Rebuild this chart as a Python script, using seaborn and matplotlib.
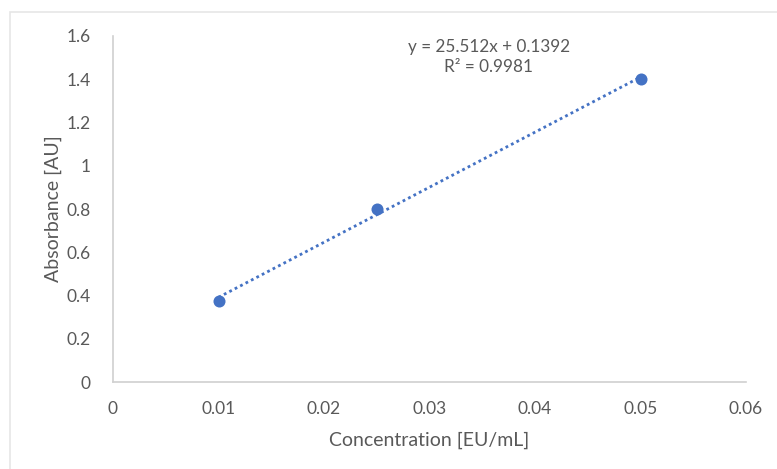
import numpy as np
import pandas as pd
import matplotlib
matplotlib.use("Agg")
import matplotlib.pyplot as plt
import seaborn as sns
from matplotlib.patches import Rectangle

concentration = [0.01, 0.025, 0.05]
absorbance = [0.375, 0.80, 1.40]
x_ticks = [0, 0.01, 0.02, 0.03, 0.04, 0.05, 0.06]
x_tick_labels = ["0", "0.01", "0.02", "0.03", "0.04", "0.05", "0.06"]
y_ticks = [0, 0.2, 0.4, 0.6, 0.8, 1.0, 1.2, 1.4, 1.6]
y_tick_labels = ["0", "0.2", "0.4", "0.6", "0.8", "1", "1.2", "1.4", "1.6"]
equation_text = "y = 25.512x + 0.1392\nR\u00b2 = 0.9981"

df = pd.DataFrame({"Concentration": concentration, "Absorbance": absorbance})

sns.set_style("white")
plt.rcParams["font.family"] = ["Lato", "DejaVu Sans"]

blue = "#4472C4"
gray_text = "#595959"
axis_gray = "#d0d0d0"

fig = plt.figure(figsize=(7.77, 4.69), dpi=100)
fig.patch.set_facecolor("white")
# chart frame
fig.add_artist(Rectangle((10 / 777, -0.05), 1.0, 1 - 12 / 469 + 0.05,
                         transform=fig.transFigure, fill=False,
                         edgecolor="#e6e6e6", linewidth=1.2))

ax = fig.add_axes([113 / 777, 1 - 382 / 469, (746 - 113) / 777, (382 - 36) / 469])

sns.regplot(data=df, x="Concentration", y="Absorbance", ax=ax, ci=None,
            truncate=True,
            scatter_kws={"s": 75, "color": blue, "alpha": 1.0,
                         "linewidths": 0, "zorder": 3},
            line_kws={"color": blue, "linestyle": (0, (1, 1.2)), "linewidth": 2.0})

ax.set_xlim(0, 0.06)
ax.set_ylim(0, 1.6)
ax.set_xticks(x_ticks)
ax.set_xticklabels(x_tick_labels)
ax.set_yticks(y_ticks)
ax.set_yticklabels(y_tick_labels)
ax.tick_params(axis="both", length=0, labelsize=12.5, colors=gray_text)
ax.tick_params(axis="x", pad=14)
ax.tick_params(axis="y", pad=16)

for s in ["top", "right"]:
    ax.spines[s].set_visible(False)
for s in ["left", "bottom"]:
    ax.spines[s].set_color(axis_gray)
    ax.spines[s].set_linewidth(1.2)

ax.set_xlabel("Concentration [EU/mL]", fontsize=14, color=gray_text, labelpad=10)
ax.set_ylabel("Absorbance [AU]", fontsize=14, color=gray_text, labelpad=3)

ax.text(0.0356, 1.585, equation_text, ha="center", va="top", fontsize=12.3,
        color=gray_text, linespacing=1.3)

fig.savefig("out.png", dpi=100)
